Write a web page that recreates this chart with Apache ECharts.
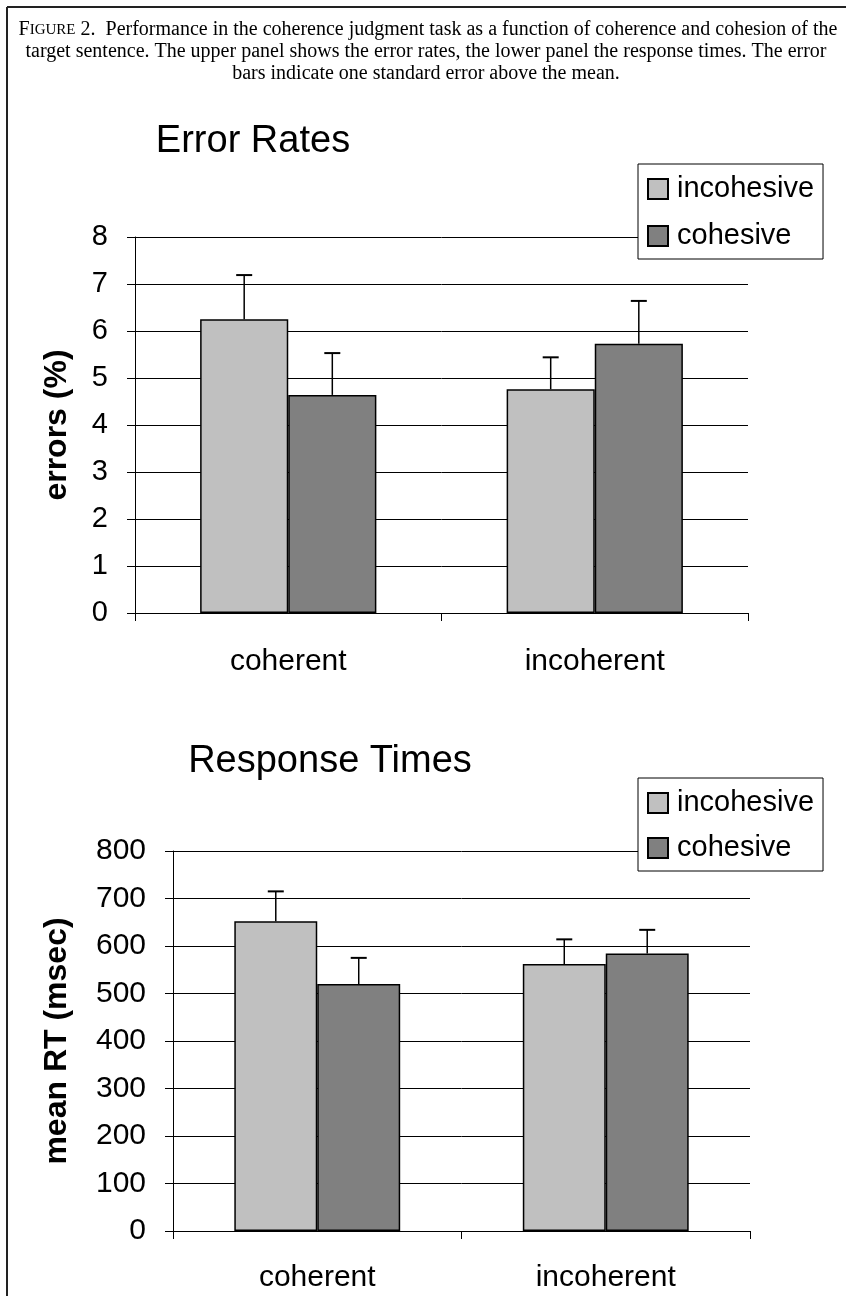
<!DOCTYPE html>
<html>
<head>
<meta charset="utf-8">
<script src="https://cdn.jsdelivr.net/npm/echarts@6/dist/echarts.min.js"></script>
<style>
html,body{margin:0;padding:0;background:#fff;}
#chart{width:846px;height:1296px;}
</style>
</head>
<body>
<div id="chart"></div>
<script>
// ---- data ----
var categories = ['coherent', 'incoherent'];
var seriesNames = ['incohesive', 'cohesive'];
// Error rates (%)
var errIncohesive = [6.25, 4.76];
var errIncohesiveSE = [0.94, 0.68];
var errCohesive = [4.64, 5.73];
var errCohesiveSE = [0.89, 0.91];
var errTicks = [0, 1, 2, 3, 4, 5, 6, 7, 8];
// Response times (msec)
var rtIncohesive = [652, 562];
var rtIncohesiveSE = [63, 52];
var rtCohesive = [520, 584];
var rtCohesiveSE = [55, 50];
var rtTicks = [0, 100, 200, 300, 400, 500, 600, 700, 800];

var SANS = '"Liberation Sans", Arial, sans-serif';
var SERIF = '"Liberation Serif", "Times New Roman", serif';
var GAP = 0.425;
var COLORS = ['#C0C0C0', '#808080'];

function seData(means, ses) {
  return means.map(function (m, i) { return [i, m, ses[i]]; });
}
function errorBar(sign) {
  return function (params, api) {
    var x = api.value(0), v = api.value(1), se = api.value(2);
    var band = api.size([1, 0])[0];
    var bw = band * (1 - GAP) / 2;
    var p0 = api.coord([x, v]);
    var p1 = api.coord([x, v + se]);
    var cx = p0[0] + sign * bw / 2;
    return {
      type: 'group',
      children: [
        { type: 'line', shape: { x1: cx, y1: p0[1], x2: cx, y2: p1[1] }, style: { stroke: '#000', lineWidth: 1.5 } },
        { type: 'line', shape: { x1: cx - 8, y1: p1[1], x2: cx + 8, y2: p1[1] }, style: { stroke: '#000', lineWidth: 2 } }
      ]
    };
  };
}
function xAxisCfg(gridIndex, margin) {
  return {
    type: 'category', gridIndex: gridIndex, data: categories,
    axisLine: { lineStyle: { color: '#000', width: 1 } },
    axisTick: { show: true, length: 8, lineStyle: { color: '#000' } },
    axisLabel: { fontFamily: SANS, fontSize: 30, color: '#000', margin: margin }
  };
}
function yAxisCfg(gridIndex, ticks, name, nameGap, fs, nameFs) {
  return {
    type: 'value', gridIndex: gridIndex,
    min: ticks[0], max: ticks[ticks.length - 1], interval: ticks[1] - ticks[0],
    name: name, nameLocation: 'middle', nameRotate: 90, nameGap: nameGap,
    nameTextStyle: { fontFamily: SANS, fontSize: nameFs, fontWeight: 'bold', color: '#000' },
    axisLine: { show: true, lineStyle: { color: '#000', width: 1 } },
    axisTick: { show: true, length: 8, lineStyle: { color: '#000' } },
    axisLabel: { fontFamily: SANS, fontSize: fs, color: '#000', margin: 27 },
    splitLine: { show: true, lineStyle: { color: '#000', width: 1 } }
  };
}
function barSeries(name, data, idx, color) {
  return {
    type: 'bar', name: name, data: data, xAxisIndex: idx, yAxisIndex: idx,
    barGap: '0%', barCategoryGap: (GAP * 100) + '%',
    itemStyle: { color: color, borderColor: '#000', borderWidth: 1.5 },
    emphasis: { disabled: true }
  };
}
function seSeries(name, means, ses, idx, sign) {
  return {
    type: 'custom', name: name, xAxisIndex: idx, yAxisIndex: idx, z: 5,
    data: seData(means, ses), encode: { x: 0, y: 1 },
    renderItem: errorBar(sign), silent: true
  };
}
function legendCfg(top, gap) {
  return {
    data: seriesNames, orient: 'vertical', left: 638, top: top,
    backgroundColor: '#fff', borderColor: '#000', borderWidth: 1,
    padding: [10, 9, 8, 9], itemGap: gap, itemWidth: 20, itemHeight: 20,
    icon: 'rect', selectedMode: false,
    textStyle: { fontFamily: SANS, fontSize: 29, color: '#000', lineHeight: 30, padding: [0, 0, 0, 4] }
  };
}

var chart = echarts.init(document.getElementById('chart'), null, { renderer: 'canvas' });
chart.setOption({
  backgroundColor: '#fff',
  animation: false,
  title: [
    { text: 'Error Rates', left: 248, top: 137, textAlign: 'center', textVerticalAlign: 'middle',
      textStyle: { fontFamily: SANS, fontSize: 38, fontWeight: 'normal', color: '#000' } },
    { text: 'Response Times', left: 325, top: 757, textAlign: 'center', textVerticalAlign: 'middle',
      textStyle: { fontFamily: SANS, fontSize: 38, fontWeight: 'normal', color: '#000' } }
  ],
  legend: [legendCfg(164, 17), legendCfg(778, 15)],
  grid: [
    { left: 135, top: 237, width: 613, height: 376 },
    { left: 173, top: 851, width: 577, height: 380 }
  ],
  xAxis: [xAxisCfg(0, 34), xAxisCfg(1, 32)],
  yAxis: [yAxisCfg(0, errTicks, 'errors (%)', 62, 29, 32), yAxisCfg(1, rtTicks, 'mean RT (msec)', 100, 30, 32)],
  series: [
    barSeries(seriesNames[0], errIncohesive, 0, COLORS[0]),
    barSeries(seriesNames[1], errCohesive, 0, COLORS[1]),
    seSeries('incohesive SE', errIncohesive, errIncohesiveSE, 0, -1),
    seSeries('cohesive SE', errCohesive, errCohesiveSE, 0, 1),
    barSeries(seriesNames[0], rtIncohesive, 1, COLORS[0]),
    barSeries(seriesNames[1], rtCohesive, 1, COLORS[1]),
    seSeries('incohesive SE', rtIncohesive, rtIncohesiveSE, 1, -1),
    seSeries('cohesive SE', rtCohesive, rtCohesiveSE, 1, 1)
  ],
  graphic: [
    { type: 'line', shape: { x1: 7, y1: 7, x2: 846, y2: 7 }, style: { stroke: '#222', lineWidth: 2 } },
    { type: 'line', shape: { x1: 7, y1: 7, x2: 7, y2: 1296 }, style: { stroke: '#222', lineWidth: 2 } },
    { type: 'text', x: 428, y: 30, style: {
        text: '{big|F}{sc|IGURE} 2.  Performance in the coherence judgment task as a function of coherence and cohesion of the',
        align: 'center', verticalAlign: 'middle', fill: '#000', font: '20px ' + SERIF,
        rich: { big: { fontFamily: SERIF, fontSize: 20 }, sc: { fontFamily: SERIF, fontSize: 15 } } } },
    { type: 'text', x: 426, y: 52, style: {
        text: 'target sentence. The upper panel shows the error rates, the lower panel the response times. The error',
        align: 'center', verticalAlign: 'middle', fill: '#000', font: '20px ' + SERIF } },
    { type: 'text', x: 426, y: 74, style: {
        text: 'bars indicate one standard error above the mean.',
        align: 'center', verticalAlign: 'middle', fill: '#000', font: '20px ' + SERIF } }
  ]
});
</script>
</body>
</html>
